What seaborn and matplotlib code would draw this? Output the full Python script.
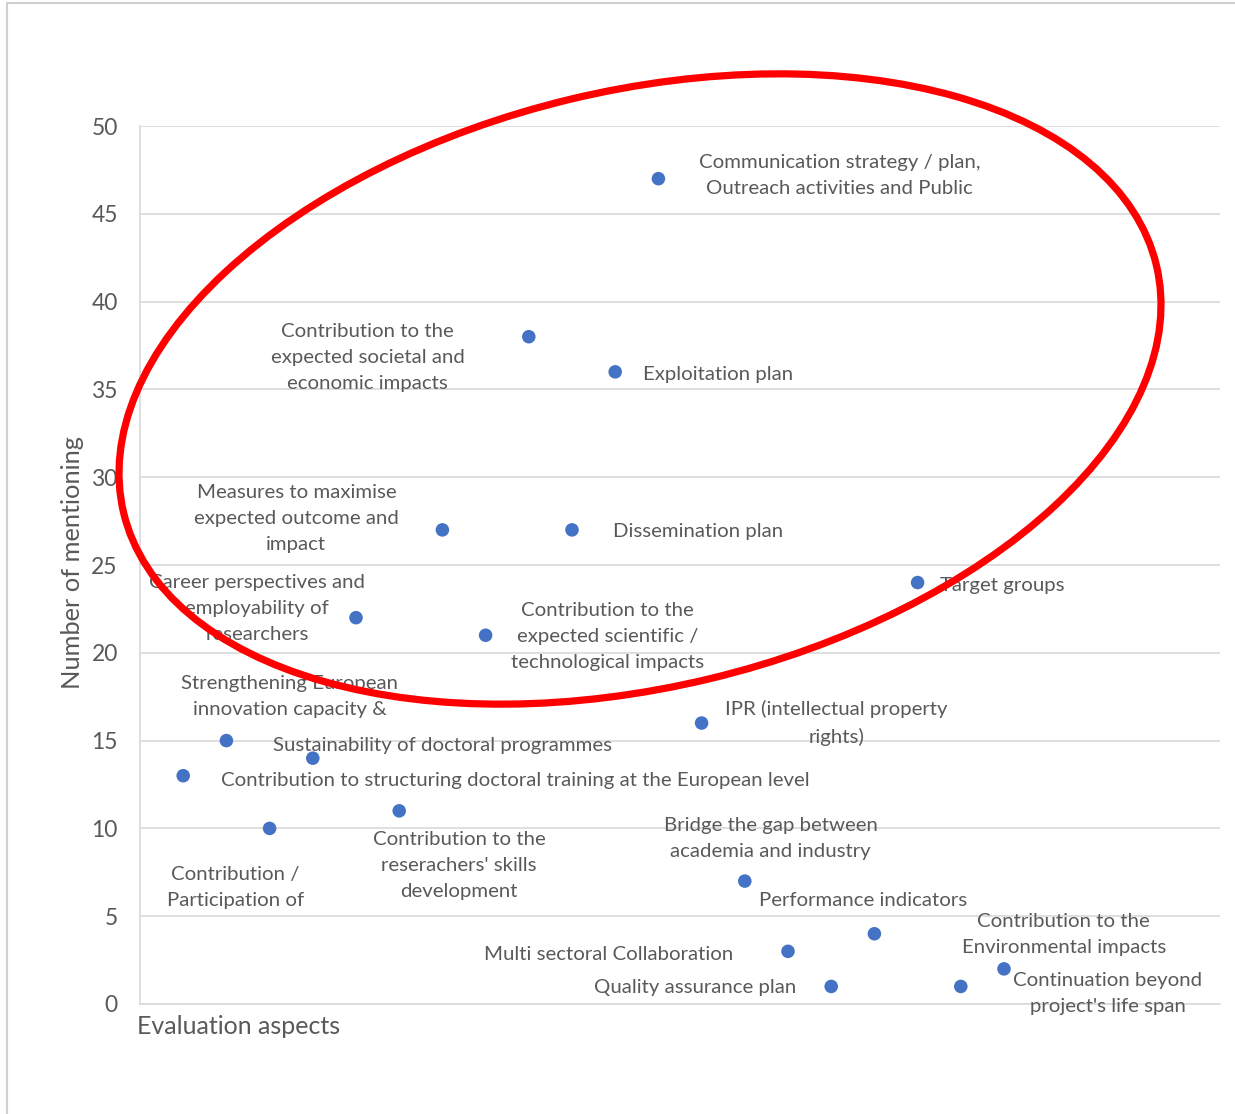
import matplotlib
matplotlib.use("Agg")
import matplotlib.pyplot as plt
from matplotlib.patches import Ellipse
from matplotlib.lines import Line2D
import seaborn as sns
import pandas as pd

# Evaluation aspects (x position = order on the axis) and number of mentions
aspect_index = list(range(1, 21))
mentions = [13, 15, 10, 14, 22, 11, 27, 21, 38, 27, 36, 47, 16, 7, 3, 1, 4, 24, 1, 2]
aspect_labels = [
    "Contribution to structuring doctoral training at the European level",
    "Strengthening European\ninnovation capacity &",
    "Contribution /\nParticipation of",
    "Sustainability of doctoral programmes",
    "Career perspectives and\nemployability of\nresearchers",
    "Contribution to the\nreserachers' skills\ndevelopment",
    "Measures to maximise\nexpected outcome and\nimpact",
    "Contribution to the\nexpected scientific /\ntechnological impacts",
    "Contribution to the\nexpected societal and\neconomic impacts",
    "Dissemination plan",
    "Exploitation plan",
    "Communication strategy / plan,\nOutreach activities and Public",
    "IPR (intellectual property\nrights)",
    "Bridge the gap between\nacademia and industry",
    "Multi sectoral Collaboration",
    "Quality assurance plan",
    "Performance indicators",
    "Target groups",
    "Contribution to the\nEnvironmental impacts",
    "Continuation beyond\nproject's life span",
]
# label placement relative to each point (pixels) and horizontal alignment
label_offsets = [
    (38, -5, "left"), (63, 44, "center"), (-34, -59, "center"), (130, 13, "center"),
    (-99, 9, "center"), (60, -55, "center"), (-146, 11, "center"), (122, -1, "center"),
    (-161, -21, "center"), (41, -2, "left"), (28, -3, "left"), (181, 3, "center"),
    (135, 0, "center"), (26, 43, "center"), (-179, -3, "center"), (-136, -1, "center"),
    (-11, 33, "center"), (22, -3, "left"), (103, 52, "center"), (104, -25, "center"),
]

df = pd.DataFrame({"aspect": aspect_index, "mentions": mentions})

sns.set_style("white")
plt.rcParams["font.family"] = ["Lato", "DejaVu Sans"]

TEXT = "#595959"
GRID = "#D9D9D9"

fig = plt.figure(figsize=(12.35, 11.14), dpi=100)
ax = fig.add_axes([140 / 1235, 110 / 1114, 1080 / 1235, 878 / 1114])

sns.scatterplot(data=df, x="aspect", y="mentions", ax=ax, s=95,
                color="#4472C4", edgecolor="none", zorder=3)

ax.set_xlim(0, 25)
ax.set_ylim(0, 50)
ax.set_yticks(range(0, 51, 5))
ax.set_xticks([])
ax.grid(axis="y", color=GRID, linewidth=1.2)
ax.set_axisbelow(True)
for side in ["top", "right"]:
    ax.spines[side].set_visible(False)
for side in ["left", "bottom"]:
    ax.spines[side].set_color(GRID)
    ax.spines[side].set_linewidth(1.2)
ax.tick_params(axis="y", length=0, pad=16, labelsize=16.5, labelcolor=TEXT)

ax.set_ylabel("")
ax.set_xlabel("")
fig.text(72 / 1235, 1 - 563 / 1114, "Number of mentioning", fontsize=18.3,
         color=TEXT, ha="center", va="center", rotation=90)
fig.text(137 / 1235, 1 - 1026 / 1114, "Evaluation aspects", fontsize=18,
         color=TEXT, ha="left", va="center")

for xv, yv, lab, (dx, dy, ha) in zip(aspect_index, mentions, aspect_labels, label_offsets):
    ax.annotate(lab, (xv, yv), xytext=(dx, dy), textcoords="offset pixels",
                ha=ha, va="center", multialignment="center", fontsize=14.7,
                color=TEXT, linespacing=1.65, zorder=4)

# highlight ring around the most mentioned aspects
fig.add_artist(Ellipse((6.40, 7.25), 10.62, 5.96, angle=13.5,
                       transform=fig.dpi_scale_trans, fill=False,
                       edgecolor="#FF0000", linewidth=5.2, zorder=10))

# light outer frame
fig.add_artist(Line2D([7 / 1235, 7 / 1235], [0, 1 - 3 / 1114],
                      transform=fig.transFigure, color="#D0D0D0", linewidth=1.5))
fig.add_artist(Line2D([7 / 1235, 1], [1 - 3 / 1114, 1 - 3 / 1114],
                      transform=fig.transFigure, color="#D0D0D0", linewidth=1.5))

fig.savefig("out.png", dpi=100)
